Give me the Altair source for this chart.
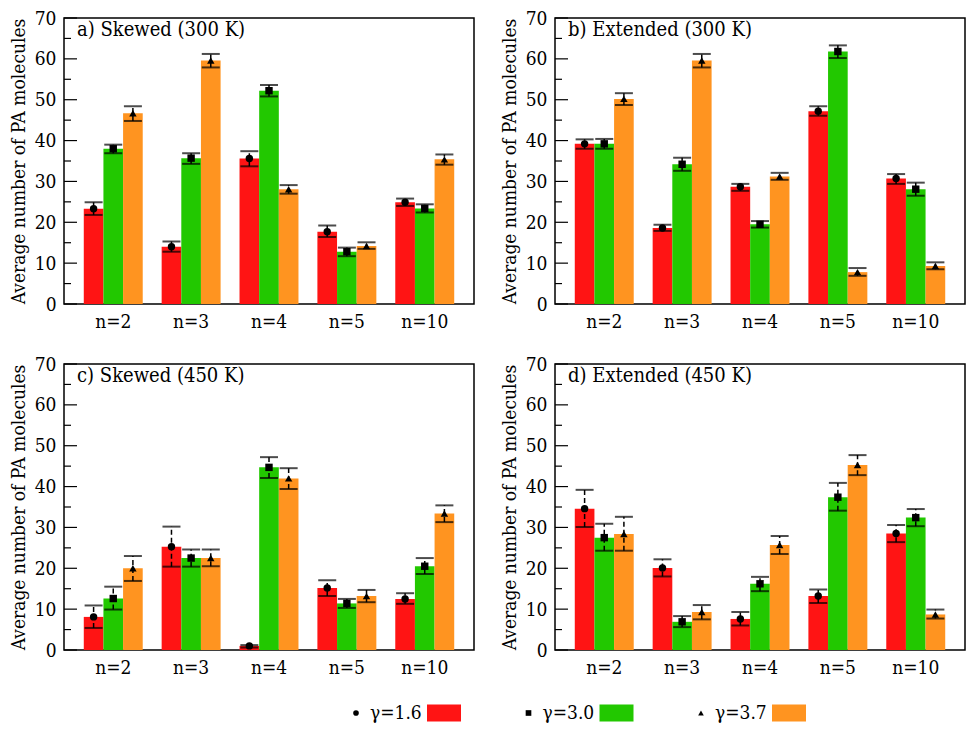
import altair as alt
import pandas as pd

ns = ["n=2", "n=3", "n=4", "n=5", "n=10"]
gammas = ["γ=1.6", "γ=3.0", "γ=3.7"]
colors = ["#ff1414", "#22c800", "#ff9420"]
shapes = ["circle", "square", "triangle-up"]

# rows: gamma 1.6, 3.0, 3.7 ; columns: n=2,3,4,5,10
a_mean = [[23.3, 14.0, 35.6, 17.7, 24.9], [38.0, 35.7, 52.2, 12.8, 23.4], [46.7, 59.6, 28.1, 14.2, 35.4]]
a_hi = [[24.9, 15.3, 37.4, 19.2, 25.8], [39.0, 36.9, 53.6, 13.8, 24.4], [48.4, 61.2, 29.1, 15.1, 36.6]]
a_lo = [[21.8, 12.8, 33.7, 16.4, 24.0], [36.9, 34.3, 50.8, 11.7, 22.4], [44.8, 57.9, 27.0, 13.5, 34.1]]

b_mean = [[39.2, 18.6, 28.7, 47.2, 30.7], [39.2, 34.2, 19.5, 61.8, 28.1], [50.2, 59.6, 31.2, 7.8, 9.3]]
b_hi = [[40.3, 19.4, 29.4, 48.4, 31.8], [40.4, 35.8, 20.3, 63.3, 29.7], [51.6, 61.2, 32.1, 8.8, 10.2]]
b_lo = [[38.0, 17.9, 27.7, 46.1, 29.4], [38.0, 32.6, 18.7, 60.2, 26.5], [48.7, 57.9, 30.4, 6.9, 8.5]]

c_mean = [[8.1, 25.3, 1.0, 15.2, 12.5], [12.6, 22.5, 44.7, 11.4, 20.5], [20.0, 22.5, 42.0, 13.2, 33.4]]
c_hi = [[10.9, 30.2, 1.2, 17.1, 13.9], [15.5, 24.6, 47.2, 12.5, 22.5], [23.0, 24.6, 44.5, 14.7, 35.4]]
c_lo = [[5.4, 20.4, 0.6, 13.2, 11.3], [9.9, 20.4, 42.1, 10.3, 18.6], [16.9, 20.5, 39.4, 11.7, 31.3]]

d_mean = [[34.6, 20.1, 7.6, 13.2, 28.5], [27.5, 6.9, 16.2, 37.4, 32.4], [28.4, 9.3, 25.7, 45.3, 8.7]]
d_hi = [[39.2, 22.2, 9.3, 14.8, 30.6], [30.9, 8.3, 17.9, 40.9, 34.5], [32.6, 11.0, 27.9, 47.7, 9.9]]
d_lo = [[30.1, 18.0, 6.0, 11.5, 26.4], [24.3, 5.6, 14.4, 34.1, 30.3], [24.3, 7.5, 23.5, 42.8, 7.7]]

panel_titles = ["a) Skewed (300 K)", "b) Extended (300 K)", "c) Skewed (450 K)", "d) Extended (450 K)"]
major_ticks = [0, 10, 20, 30, 40, 50, 60, 70]
minor_ticks = [5, 15, 25, 35, 45, 55, 65]

FONT = "DejaVu Serif Condensed, DejaVu Serif"
W, H = 410, 286


def make_df(mean, lo, hi):
    rows = []
    for gi, g in enumerate(gammas):
        for ni, n in enumerate(ns):
            rows.append({"n": n, "gamma": g, "v": mean[gi][ni], "lo": lo[gi][ni], "hi": hi[gi][ni]})
    return pd.DataFrame(rows)


def panel(mean, lo, hi, title):
    df = make_df(mean, lo, hi)
    x = alt.X("n:N", sort=ns, title=None,
              scale=alt.Scale(paddingInner=0.243, paddingOuter=0.254),
              axis=alt.Axis(labelAngle=0, ticks=False, domain=False, labelPadding=8,
                            labelFont=FONT, labelFontSize=19, labelColor="black"))
    xo = alt.XOffset("gamma:N", sort=gammas)
    yscale = alt.Scale(domain=[0, 70], nice=False)
    y = alt.Y("v:Q", scale=yscale, title="Average number of PA molecules",
              axis=alt.Axis(values=major_ticks, ticks=False, domain=False, grid=False,
                            labelPadding=8, labelFont=FONT, labelFontSize=19, labelColor="black",
                            titleFont=FONT, titleFontSize=19, titleFontWeight="normal",
                            titleColor="black", titlePadding=6))
    base = alt.Chart(df)
    bars = base.mark_bar().encode(
        x=x, xOffset=xo, y=y,
        color=alt.Color("gamma:N", scale=alt.Scale(domain=gammas, range=colors), legend=None))
    err = base.mark_rule(color="black", strokeWidth=1.5, strokeDash=[5, 3]).encode(
        x=x, xOffset=xo, y=alt.Y("lo:Q", scale=yscale), y2="hi:Q")
    cap_lo = base.mark_tick(color="black", size=18, thickness=2).encode(
        x=x, xOffset=xo, y=alt.Y("lo:Q", scale=yscale))
    cap_hi = base.mark_tick(color="black", size=18, thickness=2).encode(
        x=x, xOffset=xo, y=alt.Y("hi:Q", scale=yscale))
    pts = base.mark_point(filled=True, color="black", opacity=1, size=55).encode(
        x=x, xOffset=xo, y=alt.Y("v:Q", scale=yscale),
        shape=alt.Shape("gamma:N", scale=alt.Scale(domain=gammas, range=shapes), legend=None))
    tmaj = alt.Chart(pd.DataFrame({"t": major_ticks})).mark_rule(color="black", strokeWidth=1.2).encode(
        y=alt.Y("t:Q", scale=yscale), x=alt.value(0), x2=alt.value(13))
    tmin = alt.Chart(pd.DataFrame({"t": minor_ticks})).mark_rule(color="black", strokeWidth=1.2).encode(
        y=alt.Y("t:Q", scale=yscale), x=alt.value(0), x2=alt.value(7))
    lab = alt.Chart(pd.DataFrame({"t": [title]})).mark_text(
        align="left", baseline="middle", font=FONT, fontSize=20, color="black").encode(
        text="t:N", x=alt.value(13), y=alt.value(12))
    return alt.layer(bars, err, cap_lo, cap_hi, pts, tmaj, tmin, lab).properties(width=W, height=H)


pa = panel(a_mean, a_lo, a_hi, panel_titles[0])
pb = panel(b_mean, b_lo, b_hi, panel_titles[1])
pc = panel(c_mean, c_lo, c_hi, panel_titles[2])
pd_ = panel(d_mean, d_lo, d_hi, panel_titles[3])

leg_df = pd.DataFrame({"gamma": gammas})
lx = alt.X("gamma:N", sort=gammas, axis=None,
           scale=alt.Scale(type="point", padding=0, range=[292, 637]))
leg_base = alt.Chart(leg_df)
leg_pts = leg_base.mark_point(filled=True, color="black", opacity=1, size=32).encode(
    x=lx, y=alt.value(9),
    shape=alt.Shape("gamma:N", scale=alt.Scale(domain=gammas, range=shapes), legend=None))
leg_txt = leg_base.mark_text(align="left", baseline="middle", dx=14, font=FONT, fontSize=19,
                             color="black").encode(x=lx, y=alt.value(9), text="gamma:N")
leg_sw = leg_base.mark_point(filled=True, opacity=1, shape="M-1,-0.5L1,-0.5L1,0.5L-1,0.5Z",
                             size=1156, xOffset=88).encode(
    x=lx, y=alt.value(9),
    color=alt.Color("gamma:N", scale=alt.Scale(domain=gammas, range=colors), legend=None))
legend = alt.layer(leg_pts, leg_txt, leg_sw).properties(
    width=760, height=18, view=alt.ViewBackground(strokeWidth=0))

top = alt.hconcat(pa, pb, spacing=24)
bot = alt.hconcat(pc, pd_, spacing=24)
rows = alt.vconcat(top, bot, spacing=22)
chart = alt.vconcat(rows, legend, spacing=26).properties(padding=0).configure_view(
    stroke="black", strokeWidth=1.5)

chart.save("out.html", embed_options={"renderer": "svg", "actions": False})
